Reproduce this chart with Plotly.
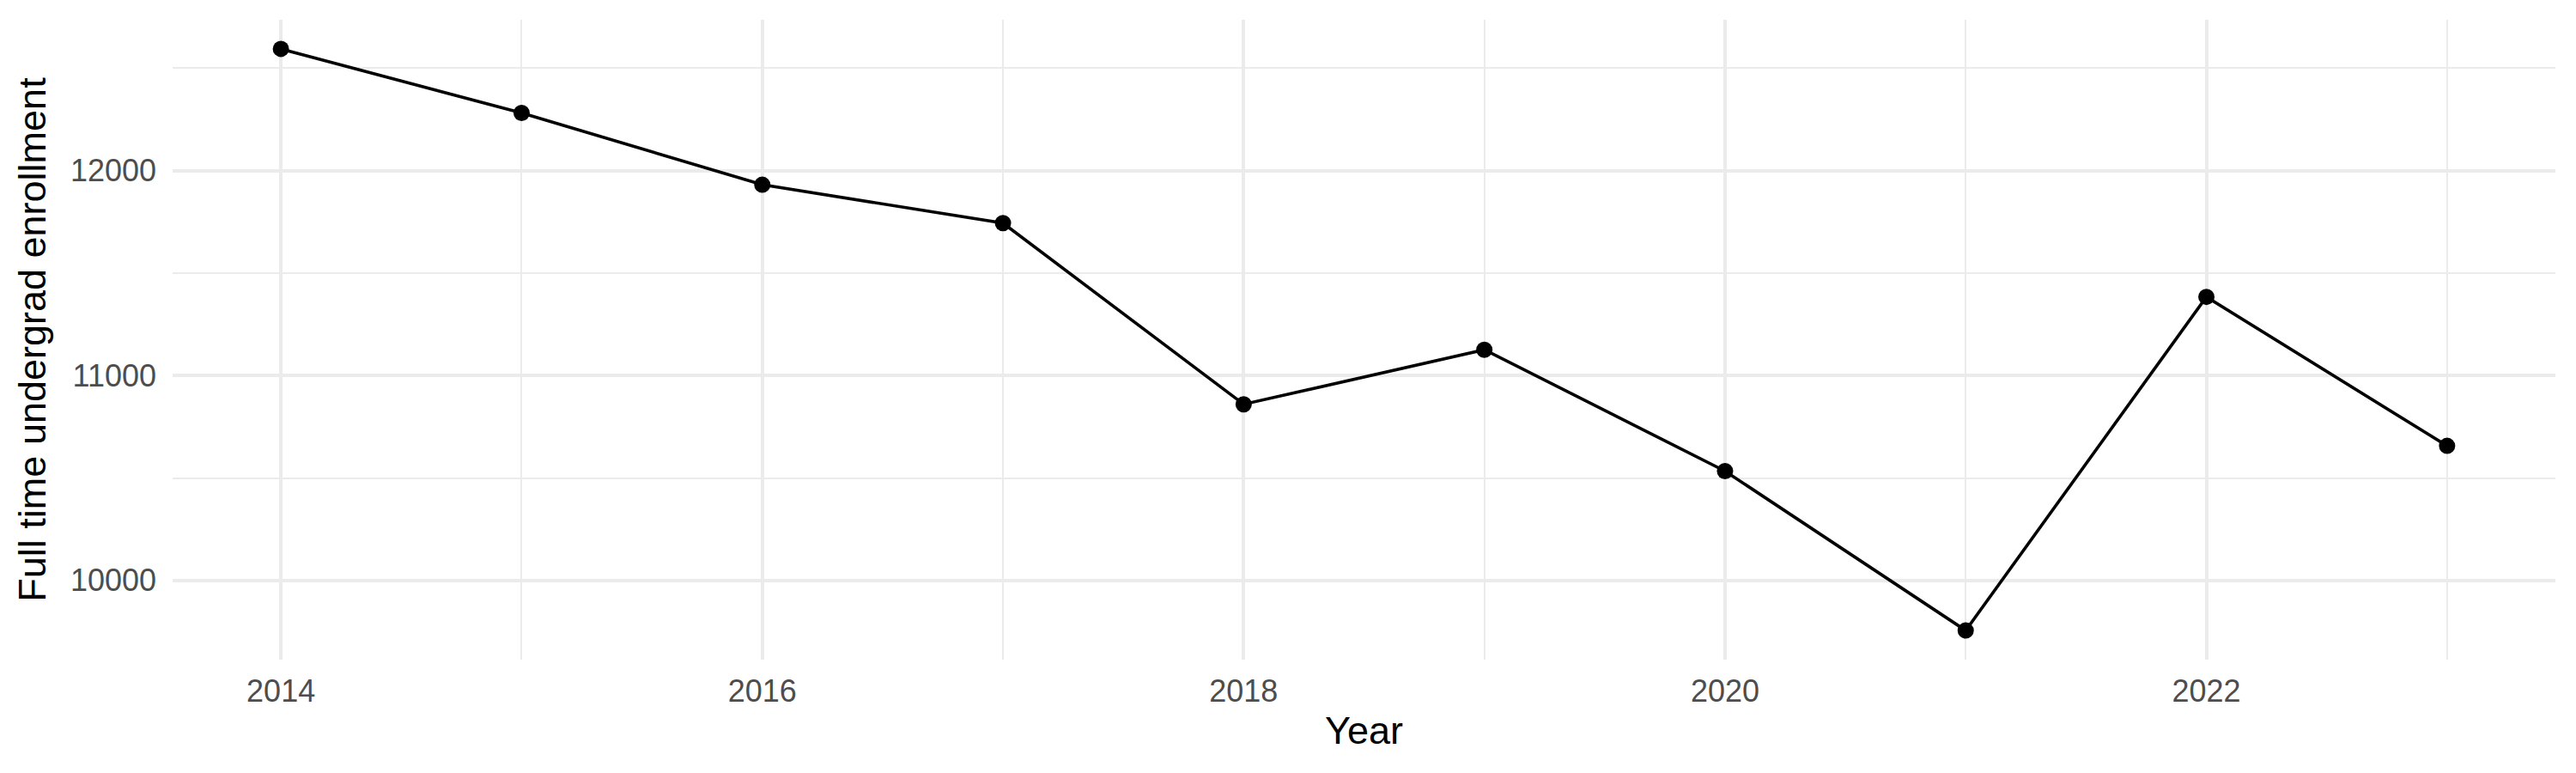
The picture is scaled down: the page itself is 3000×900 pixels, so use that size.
import plotly.graph_objects as go

# enrollment per year
years = [2014, 2015, 2016, 2017, 2018, 2019, 2020, 2021, 2022, 2023]
enrollment = [12594, 12281, 11931, 11744, 10860, 11126, 10534, 9756, 11384, 10657]

fig = go.Figure()
fig.add_trace(go.Scatter(
    x=years, y=enrollment,
    mode="lines+markers",
    line=dict(color="black", width=3.6),
    marker=dict(color="black", size=19),
    showlegend=False,
))

grid_major = "#EBEBEB"
tick_font = dict(family="Liberation Sans", size=36, color="#4D4D4D")
title_font = dict(family="Liberation Sans", size=45, color="black")

# page body has an 8px margin, so the figure is a bit smaller than the window
fig.update_layout(
    width=2984, height=884,
    paper_bgcolor="white", plot_bgcolor="white",
    margin=dict(l=193, r=16, t=15, b=124),
    xaxis=dict(
        range=[2013.55, 2023.45],
        tick0=2014, dtick=2, tickformat="d",
        showgrid=True, gridcolor=grid_major, gridwidth=3.7,
        minor=dict(tick0=2014, dtick=1, showgrid=True, gridcolor=grid_major, gridwidth=2),
        zeroline=False, showline=False, automargin=False,
        tickfont=tick_font, ticklabelstandoff=12,
        title=dict(text="Year", font=title_font, standoff=10),
    ),
    yaxis=dict(
        range=[9614, 12736],
        tick0=10000, dtick=1000, tickformat="d",
        showgrid=True, gridcolor=grid_major, gridwidth=3.7,
        minor=dict(tick0=10000, dtick=500, showgrid=True, gridcolor=grid_major, gridwidth=2),
        zeroline=False, showline=False, automargin=False,
        tickfont=tick_font, ticklabelstandoff=18,
        title=dict(text="Full time undergrad enrollment", font=title_font, standoff=14),
    ),
)

fig.write_html("out.html")
